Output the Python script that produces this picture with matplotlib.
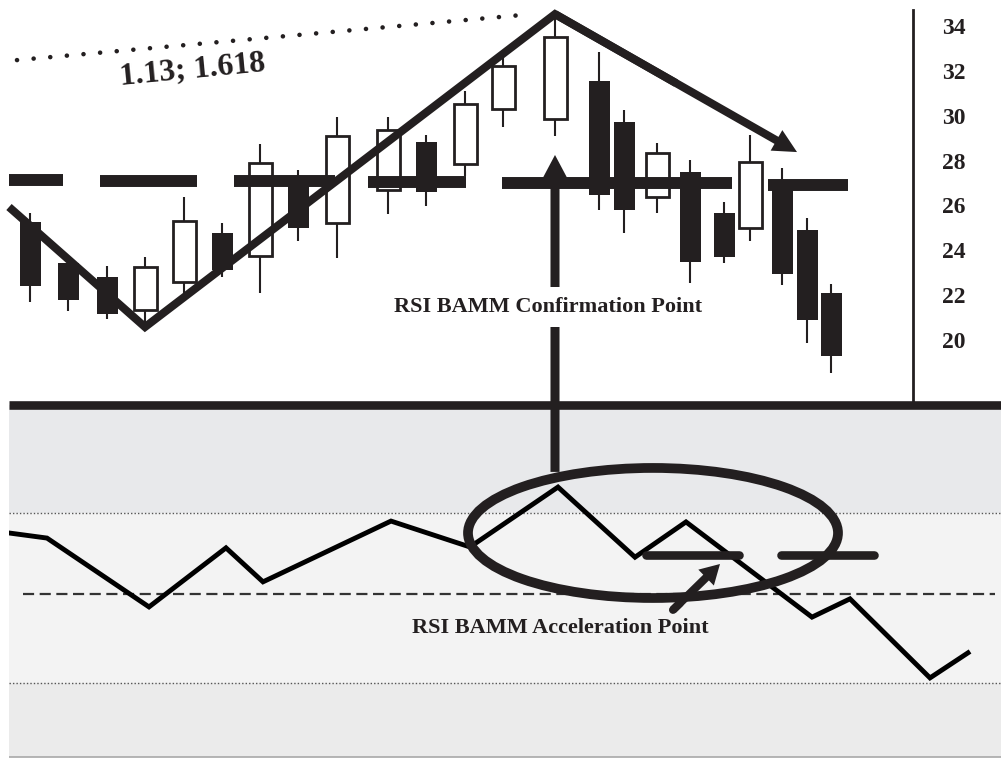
import matplotlib
matplotlib.use("Agg")
import matplotlib.pyplot as plt
from matplotlib.patches import Ellipse
import numpy as np

plt.rcParams['font.family'] = ['Liberation Serif', 'DejaVu Serif']
plt.rcParams['font.weight'] = 'bold'

INK = '#231f20'

# ---------------- data ----------------
# candle time positions and OHLC prices
candle_t = [30, 68, 107, 145, 184, 222, 260, 298, 337, 388, 426, 465, 503,
            555, 599, 624, 657, 690, 724, 750, 782, 807, 831]
candle_open = [25.26, 23.43, 22.81, 21.34, 22.59, 24.77, 23.75, 27.13, 25.22, 26.69,
               28.83, 27.85, 30.30, 29.85, 31.55, 29.72, 26.38, 27.49, 25.66, 25.00,
               27.05, 24.90, 22.10]
candle_high = [25.66, 23.50, 23.30, 23.70, 26.38, 25.22, 28.74, 27.58, 29.94, 29.94,
               29.14, 31.10, 32.62, 34.70, 32.84, 30.26, 28.78, 28.03, 26.15, 29.14,
               27.67, 25.44, 22.50]
candle_low = [21.70, 21.30, 20.94, 20.80, 22.10, 22.81, 22.10, 24.41, 23.66, 25.62,
              25.98, 27.31, 29.50, 29.10, 25.80, 24.77, 25.66, 22.54, 23.43, 24.41,
              22.45, 19.87, 18.53]
candle_close = [22.41, 21.78, 21.16, 23.26, 25.31, 23.12, 27.89, 25.00, 29.10, 29.36,
                26.60, 30.52, 32.22, 33.51, 26.47, 25.80, 28.34, 23.48, 23.70, 27.94,
                22.94, 20.90, 19.29]

price_ticks = [20, 22, 24, 26, 28, 30, 32, 34]

# horizontal support/resistance segments: start, end, price
level_start = [9, 100, 234, 368, 502, 768]
level_end = [63, 197, 335, 466, 732, 848]
level_price = [27.13, 27.09, 27.09, 27.05, 27.00, 26.93]

# swing (zig-zag) line
swing_t = [9, 145, 555]
swing_p = [25.93, 20.58, 34.53]
swing_arrow_tip = (797, 28.38)

# dotted extension line
fib_t = [17, 532]
fib_p = [32.48, 34.53]
fib_label = "1.13; 1.618"

# RSI
rsi_t = [9, 47, 149, 226, 263, 391, 470, 558, 635, 686, 812, 850, 930, 968]
rsi_v = [65.3, 64.1, 47.9, 61.8, 53.8, 68.1, 62.0, 76.1, 59.6, 67.9, 45.5, 49.8, 31.2, 37.1]
rsi_upper, rsi_mid, rsi_lower = 70, 50.9, 30
rsi_level_start = [646, 781]
rsi_level_end = [739, 874]
rsi_level_value = [60.1, 60.1]

# ---------------- figure ----------------
W, H = 1001, 758
fig = plt.figure(figsize=(W / 100, H / 100), dpi=100)
fig.patch.set_facecolor('white')

ax_bot = fig.add_axes([9 / W, 1 / H, 992 / W, 352 / H])
ax_top = fig.add_axes([0, (H - 405) / H, 913 / W, 405 / H])
ax_top.set_zorder(3)
ax_top.patch.set_alpha(0)

# ---- top: price panel ----
ax_top.set_xlim(0, 913)
ylo, yhi = 34 - 379 / 22.43, 34 + 26 / 22.43
ax_top.set_ylim(ylo, yhi)
for s in ['left', 'top', 'bottom']:
    ax_top.spines[s].set_visible(False)
ax_top.spines['right'].set_linewidth(2)
ax_top.spines['right'].set_color(INK)
ax_top.spines['right'].set_bounds(ylo, 34.71)
ax_top.yaxis.tick_right()
ax_top.set_yticks(price_ticks)
ax_top.set_yticklabels([str(v) for v in price_ticks])
ax_top.tick_params(axis='y', length=0, pad=21, labelsize=17, labelcolor=INK)
ax_top.set_xticks([])

o = np.array(candle_open); c = np.array(candle_close)
t = np.array(candle_t)
up = c >= o
ax_top.vlines(t, candle_low, candle_high, color=INK, lw=1.5, zorder=2)
ax_top.bar(t[~up], (o - c)[~up], bottom=c[~up], width=21, color=INK,
           edgecolor='none', zorder=3)
ax_top.bar(t[up], (c - o)[up], bottom=o[up], width=23, facecolor='white',
           edgecolor=INK, lw=2, zorder=3)

ax_top.hlines(level_price, level_start, level_end, color=INK, lw=8.6, zorder=4,
              capstyle='butt')

# swing line + arrow
sx = list(swing_t) + [swing_t[-1] + 0.5 * (swing_arrow_tip[0] - swing_t[-1])]
sy = list(swing_p) + [swing_p[-1] + 0.5 * (swing_arrow_tip[1] - swing_p[-1])]
ax_top.plot(sx, sy, color=INK, lw=5.8, solid_joinstyle='miter',
            solid_capstyle='butt', zorder=5)
ax_top.annotate('', xy=swing_arrow_tip, xytext=(swing_t[-1], swing_p[-1]),
                arrowprops=dict(width=5.8, headwidth=17, headlength=17, shrink=0,
                                facecolor=INK, edgecolor='none'), zorder=5)

# dotted line
ax_top.plot(fib_t, fib_p, color=INK, lw=3.3, linestyle=(0, (0.01, 3.63)),
            dash_capstyle='round', zorder=5)
ax_top.text(193, 32.02, fib_label, fontsize=23, rotation=5.5, ha='center',
            va='center', rotation_mode='anchor', color=INK, zorder=6)

# vertical confirmation arrow
ax_top.annotate('', xy=(555, 28.25), xytext=(555, 14.12),
                arrowprops=dict(width=6.5, headwidth=17.5, headlength=16.5, shrink=0,
                                facecolor=INK, edgecolor='none'),
                annotation_clip=False, zorder=6)
ax_top.text(548.5, 21.26, 'RSI BAMM Confirmation Point', fontsize=16, ha='center',
            va='baseline', color=INK, zorder=7,
            bbox=dict(boxstyle='square,pad=0.45', facecolor='white', edgecolor='none'))

# ---- bottom: RSI panel ----
ax_bot.set_xlim(9, 1001)
ax_bot.set_ylim(70 - 244 / 4.25, 70 + 108 / 4.25)
ax_bot.set_xticks([]); ax_bot.set_yticks([])
ax_bot.spines['left'].set_visible(False)
ax_bot.spines['right'].set_visible(False)
ax_bot.spines['top'].set_linewidth(6.2)
ax_bot.spines['top'].set_color(INK)
ax_bot.spines['top'].set_capstyle('butt')
ax_bot.spines['bottom'].set_linewidth(1.2)
ax_bot.spines['bottom'].set_color('#a8a8a8')
ax_bot.spines['bottom'].set_capstyle('butt')

y0, y1 = ax_bot.get_ylim()
ax_bot.axhspan(rsi_upper, y1, color='#e8e9eb', zorder=0, lw=0)
ax_bot.axhspan(rsi_lower, rsi_upper, color='#f3f3f3', zorder=0, lw=0)
ax_bot.axhspan(y0, rsi_lower, color='#ebebeb', zorder=0, lw=0)
ax_bot.axhline(rsi_upper, color='#555555', lw=1.0, linestyle=(0, (1, 1.5)), zorder=1)
ax_bot.axhline(rsi_lower, color='#555555', lw=1.0, linestyle=(0, (1, 1.5)), zorder=1)
ax_bot.hlines(rsi_mid, 23, 995, color='#333333', lw=1.6, linestyles=[(0, (5, 2.5))], zorder=1)

ax_bot.plot(rsi_t, rsi_v, color='black', lw=3.5, solid_joinstyle='miter', zorder=3)
ax_bot.hlines(rsi_level_value, rsi_level_start, rsi_level_end, color=INK, lw=6.2,
              capstyle='round', zorder=4)

ax_bot.add_patch(Ellipse((653, 65.3), 370, 30.6, facecolor='none', edgecolor=INK,
                         lw=7, zorder=4))

ax_bot.plot([673, 680], [47.2, 48.8], color=INK, lw=5.8, solid_capstyle='round', zorder=5)
ax_bot.annotate('', xy=(720, 58.0), xytext=(673, 47.2),
                arrowprops=dict(width=5.8, headwidth=16, headlength=14, shrink=0,
                                facecolor=INK, edgecolor='none'), zorder=5)
ax_bot.text(560.5, 41.76, 'RSI BAMM Acceleration Point', fontsize=16, ha='center',
            va='baseline', color=INK, zorder=6)

fig.savefig('out.png', dpi=100)
